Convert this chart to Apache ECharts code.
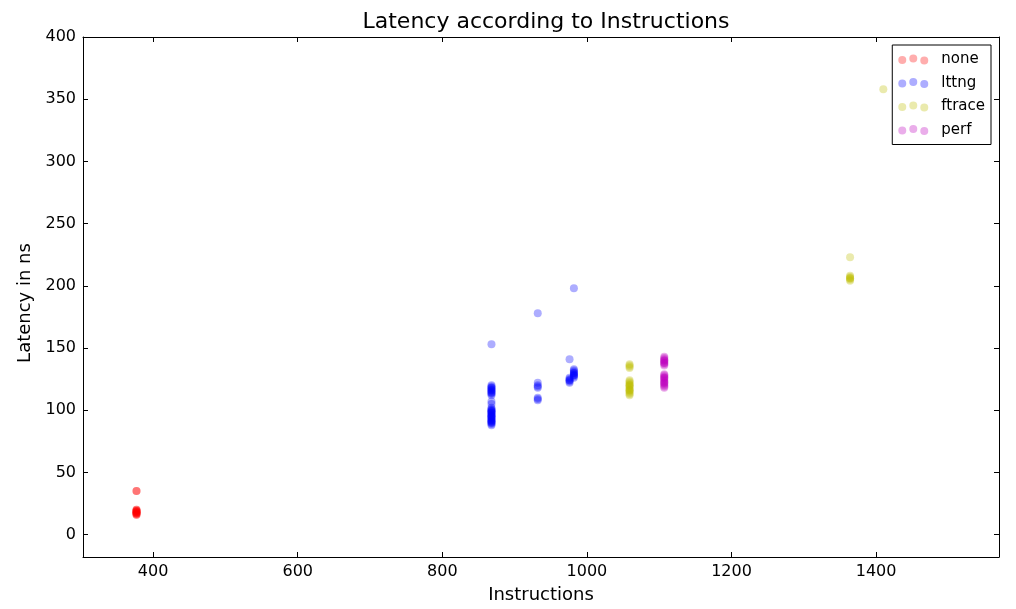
<!DOCTYPE html>
<html>
<head>
<meta charset="utf-8">
<title>Latency according to Instructions</title>
<script src="https://cdn.jsdelivr.net/npm/echarts@6/dist/echarts.min.js"></script>
<style>
  html, body { margin: 0; padding: 0; background: #ffffff; }
  #chart { width: 1016px; height: 609px; }
</style>
</head>
<body>
<div id="chart"></div>
<script>
// Measurements: [instructions, latency in ns]
const noneData = [
  [377, 35], [377, 35], [377, 20], [377, 19], [377, 18], [377, 17], [377, 16],
  [377, 20], [377, 19], [377, 18], [377, 17], [377, 16], [377, 19], [377, 18], [377, 17]
];
const lttngData = [
  [868, 153], [868, 120], [868, 119], [868, 118], [868, 117], [868, 116], [868, 115],
  [868, 114], [868, 113], [868, 112], [868, 118], [868, 116], [868, 114],
  [868, 107], [868, 105], [868, 102], [868, 101], [868, 100], [868, 99], [868, 98],
  [868, 97], [868, 96], [868, 95], [868, 94], [868, 93], [868, 92], [868, 91],
  [868, 90], [868, 89], [868, 88], [868, 100], [868, 98], [868, 96], [868, 94],
  [868, 92], [868, 90], [868, 99], [868, 95], [868, 91],
  [932, 178], [932, 122], [932, 120], [932, 119], [932, 118], [932, 110], [932, 109], [932, 108],
  [976, 141], [976, 122], [976, 123], [976, 124], [976, 125], [976, 126], [976, 124],
  [982, 198], [982, 126], [982, 127], [982, 128], [982, 129], [982, 130], [982, 131],
  [982, 132], [982, 133], [982, 128], [982, 130]
];
const ftraceData = [
  [1059, 137], [1059, 136], [1059, 135], [1059, 134], [1059, 124], [1059, 123],
  [1059, 122], [1059, 121], [1059, 120], [1059, 119], [1059, 118], [1059, 117],
  [1059, 116], [1059, 115], [1059, 114], [1059, 113], [1059, 112], [1059, 120], [1059, 116],
  [1364, 223], [1364, 208], [1364, 207], [1364, 206], [1364, 205], [1364, 204], [1364, 206],
  [1410, 358]
];
const perfData = [
  [1107, 143], [1107, 142], [1107, 141], [1107, 140], [1107, 139], [1107, 138],
  [1107, 137], [1107, 136], [1107, 129], [1107, 128], [1107, 127], [1107, 126],
  [1107, 125], [1107, 124], [1107, 123], [1107, 122], [1107, 121], [1107, 120],
  [1107, 119], [1107, 118], [1107, 140], [1107, 138], [1107, 126], [1107, 122]
];

const seriesNames = ['none', 'lttng', 'ftrace', 'perf'];
const seriesColors = [
  'rgba(255,0,0,0.4)',
  'rgba(0,0,255,0.4)',
  'rgba(191,191,0,0.4)',
  'rgba(191,0,191,0.4)'
];
const seriesData = [noneData, lttngData, ftraceData, perfData];

const xRange = [303, 1570];
const yRange = [-18, 400];

// Three staggered dots, like a scatter legend handle
const threeDots = 'path://M0,5.5a4,4 0 1,0 8,0a4,4 0 1,0 -8,0Z' +
  'M11,4a4,4 0 1,0 8,0a4,4 0 1,0 -8,0Z' +
  'M22,6a4,4 0 1,0 8,0a4,4 0 1,0 -8,0Z';

const font = 'DejaVu Sans';
const axisLineStyle = { color: '#000', width: 1 };
const plainNumber = (v) => String(Math.round(v));

const chart = echarts.init(document.getElementById('chart'), null, { renderer: 'canvas' });

const frameAxis = (extra) => Object.assign({
  type: 'value',
  axisLine: { show: true, onZero: false, lineStyle: axisLineStyle },
  axisTick: { show: true, inside: true, length: 5, lineStyle: axisLineStyle },
  splitLine: { show: false },
  axisLabel: { show: false }
}, extra);

chart.setOption({
  backgroundColor: '#ffffff',
  animation: false,
  title: {
    text: 'Latency according to Instructions',
    left: 541,
    textAlign: 'center',
    top: 6,
    textStyle: { fontFamily: font, fontSize: 22, fontWeight: 'normal', color: '#000' }
  },
  grid: { left: 83, right: 17, top: 37, bottom: 51 },
  legend: {
    data: seriesNames.map((n) => ({ name: n, icon: threeDots })),
    orient: 'vertical',
    right: 25,
    top: 45,
    itemWidth: 30,
    itemHeight: 10,
    itemGap: 8.5,
    padding: [7, 6, 7, 6],
    borderColor: '#000',
    borderWidth: 1,
    borderRadius: 0,
    backgroundColor: '#fff',
    textStyle: { fontFamily: font, fontSize: 15, lineHeight: 15, color: '#000', padding: [0, 0, 0, 8] }
  },
  xAxis: [
    frameAxis({
      position: 'bottom',
      min: xRange[0], max: xRange[1],
      splitNumber: 6,
      name: 'Instructions',
      nameLocation: 'middle',
      nameGap: 29,
      nameTextStyle: { fontFamily: font, fontSize: 18, color: '#000' },
      axisLabel: {
        show: true, margin: 7, showMinLabel: false, showMaxLabel: false,
        fontFamily: font, fontSize: 16, color: '#000', formatter: plainNumber
      }
    }),
    frameAxis({ position: 'top', min: xRange[0], max: xRange[1], splitNumber: 6 })
  ],
  yAxis: [
    frameAxis({
      position: 'left',
      min: yRange[0], max: yRange[1],
      splitNumber: 8,
      name: 'Latency in ns',
      nameLocation: 'middle',
      nameGap: 49,
      nameTextStyle: { fontFamily: font, fontSize: 18, color: '#000', padding: [0, 12, 0, 0] },
      axisLabel: {
        show: true, margin: 7, showMinLabel: false,
        fontFamily: font, fontSize: 16, color: '#000', formatter: plainNumber
      }
    }),
    frameAxis({ position: 'right', min: yRange[0], max: yRange[1], splitNumber: 8 })
  ],
  series: seriesNames.map((name, i) => ({
    name: name,
    type: 'scatter',
    xAxisIndex: 0,
    yAxisIndex: 0,
    symbol: 'circle',
    symbolSize: 8,
    data: seriesData[i],
    itemStyle: { color: seriesColors[i], borderWidth: 0 },
    emphasis: { disabled: true }
  }))
});
</script>
</body>
</html>
